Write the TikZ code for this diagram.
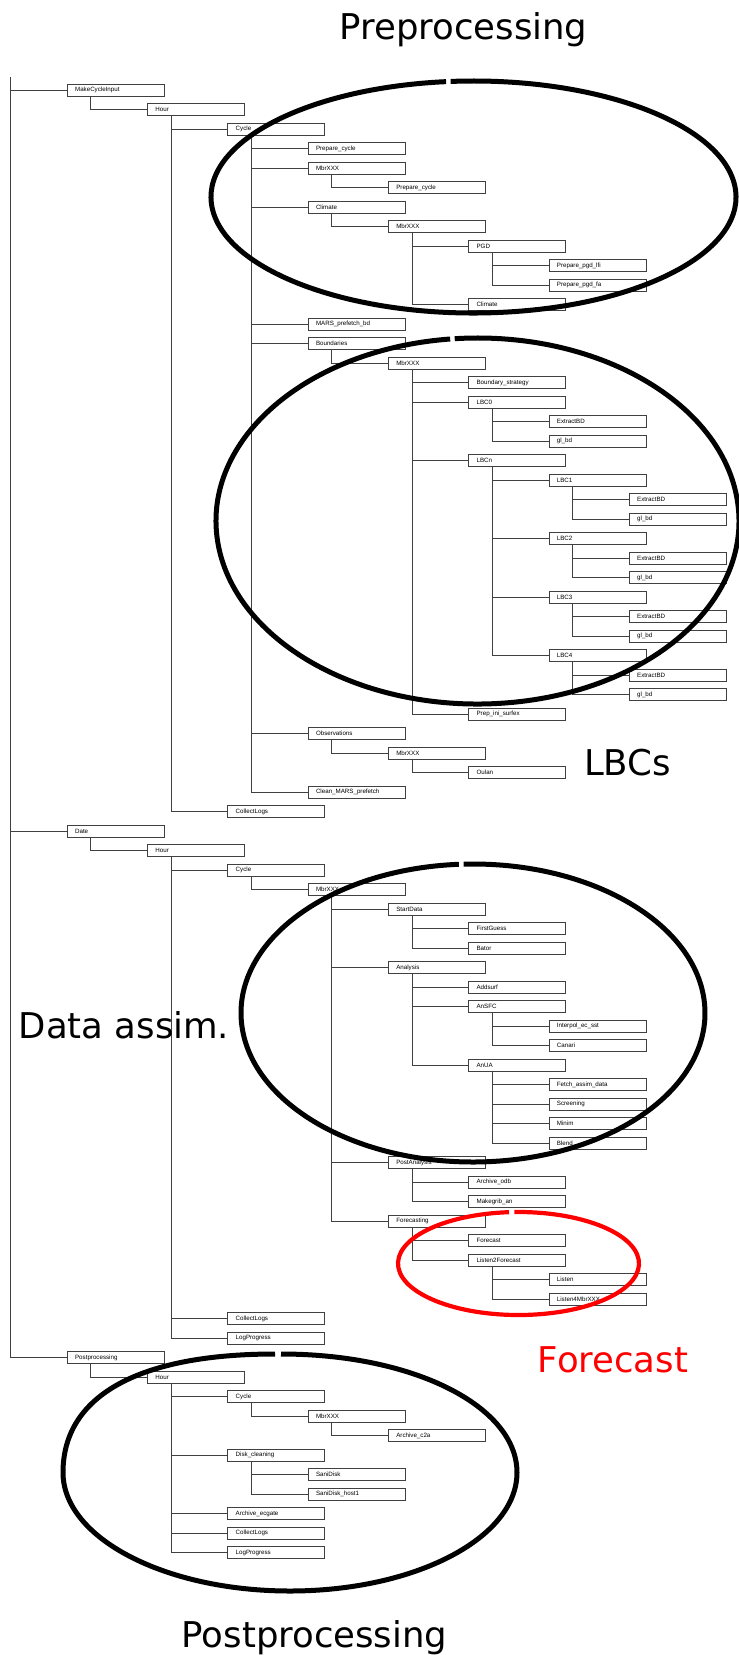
\documentclass[tikz,border=0pt]{standalone}
\usepackage{fontspec}
\setmainfont{Liberation Sans}
\newfontfamily\bigfont{DejaVu Sans}
\usetikzlibrary{calc}

% one task box: name, level, row, label
\newcommand{\tasknode}[4]{\node[taskbox] (#1) at ({80.3*#2-13.6},{90+19.5*#3}) {#4};}

\tikzset{
  taskbox/.style={draw=black!75, line width=0.8pt, anchor=west, minimum height=12pt,
    text width=81pt, inner xsep=8pt, inner ysep=0pt, align=left,
    font=\fontsize{6.2}{7}\selectfont},
  link/.style={draw=black!75, line width=0.8pt},
  loopline/.style={line width=5pt},
  biglabel/.style={font=\bigfont\fontsize{35.5}{40}\selectfont, anchor=base}
}

\begin{document}
\begin{tikzpicture}[x=1pt, y=-1pt]
  \useasboundingbox (0,0) rectangle (739,1655);

  % MakeCycleInput branch
  \tasknode{mci}{1}{0}{MakeCycleInput}
  \tasknode{hourA}{2}{1}{Hour}
  \tasknode{cycleA}{3}{2}{Cycle}
  \tasknode{prepcyc}{4}{3}{Prepare\_cycle}
  \tasknode{mbrA}{4}{4}{MbrXXX}
  \tasknode{prepcycB}{5}{5}{Prepare\_cycle}
  \tasknode{climA}{4}{6}{Climate}
  \tasknode{mbrB}{5}{7}{MbrXXX}
  \tasknode{pgd}{6}{8}{PGD}
  \tasknode{pgdlfi}{7}{9}{Prepare\_pgd\_lfi}
  \tasknode{pgdfa}{7}{10}{Prepare\_pgd\_fa}
  \tasknode{climB}{6}{11}{Climate}
  \tasknode{marspf}{4}{12}{MARS\_prefetch\_bd}
  \tasknode{bdy}{4}{13}{Boundaries}
  \tasknode{mbrC}{5}{14}{MbrXXX}
  \tasknode{bdystrat}{6}{15}{Boundary\_strategy}
  \tasknode{lbc0}{6}{16}{LBC0}
  \tasknode{xbd0}{7}{17}{ExtractBD}
  \tasknode{glbd0}{7}{18}{gl\_bd}
  \tasknode{lbcn}{6}{19}{LBCn}
  \tasknode{lbc1}{7}{20}{LBC1}
  \tasknode{xbd1}{8}{21}{ExtractBD}
  \tasknode{glbd1}{8}{22}{gl\_bd}
  \tasknode{lbc2}{7}{23}{LBC2}
  \tasknode{xbd2}{8}{24}{ExtractBD}
  \tasknode{glbd2}{8}{25}{gl\_bd}
  \tasknode{lbc3}{7}{26}{LBC3}
  \tasknode{xbd3}{8}{27}{ExtractBD}
  \tasknode{glbd3}{8}{28}{gl\_bd}
  \tasknode{lbc4}{7}{29}{LBC4}
  \tasknode{xbd4}{8}{30}{ExtractBD}
  \tasknode{glbd4}{8}{31}{gl\_bd}
  \tasknode{prepini}{6}{32}{Prep\_ini\_surfex}
  \tasknode{obs}{4}{33}{Observations}
  \tasknode{mbrD}{5}{34}{MbrXXX}
  \tasknode{oulan}{6}{35}{Oulan}
  \tasknode{cleanmars}{4}{36}{Clean\_MARS\_prefetch}
  \tasknode{logsA}{3}{37}{CollectLogs}

  % Date branch
  \tasknode{date}{1}{38}{Date}
  \tasknode{hourB}{2}{39}{Hour}
  \tasknode{cycleB}{3}{40}{Cycle}
  \tasknode{mbrE}{4}{41}{MbrXXX}
  \tasknode{startdata}{5}{42}{StartData}
  \tasknode{firstguess}{6}{43}{FirstGuess}
  \tasknode{bator}{6}{44}{Bator}
  \tasknode{analysis}{5}{45}{Analysis}
  \tasknode{addsurf}{6}{46}{Addsurf}
  \tasknode{ansfc}{6}{47}{AnSFC}
  \tasknode{interpol}{7}{48}{Interpol\_ec\_sst}
  \tasknode{canari}{7}{49}{Canari}
  \tasknode{anua}{6}{50}{AnUA}
  \tasknode{fetch}{7}{51}{Fetch\_assim\_data}
  \tasknode{screening}{7}{52}{Screening}
  \tasknode{minim}{7}{53}{Minim}
  \tasknode{blend}{7}{54}{Blend}
  \tasknode{postan}{5}{55}{PostAnalysis}
  \tasknode{archodb}{6}{56}{Archive\_odb}
  \tasknode{makegrib}{6}{57}{Makegrib\_an}
  \tasknode{fcing}{5}{58}{Forecasting}
  \tasknode{fc}{6}{59}{Forecast}
  \tasknode{listen2}{6}{60}{Listen2Forecast}
  \tasknode{listen}{7}{61}{Listen}
  \tasknode{listen4}{7}{62}{Listen4MbrXXX}
  \tasknode{logsB}{3}{63}{CollectLogs}
  \tasknode{progB}{3}{64}{LogProgress}

  % Postprocessing branch
  \tasknode{post}{1}{65}{Postprocessing}
  \tasknode{hourC}{2}{66}{Hour}
  \tasknode{cycleC}{3}{67}{Cycle}
  \tasknode{mbrF}{4}{68}{MbrXXX}
  \tasknode{archc2a}{5}{69}{Archive\_c2a}
  \tasknode{diskcl}{3}{70}{Disk\_cleaning}
  \tasknode{sanidisk}{4}{71}{SaniDisk}
  \tasknode{sanihost}{4}{72}{SaniDisk\_host1}
  \tasknode{archecg}{3}{73}{Archive\_ecgate}
  \tasknode{logsC}{3}{74}{CollectLogs}
  \tasknode{progC}{3}{75}{LogProgress}

  % root line
  \coordinate (root) at (10.5,77);
  \foreach \c in {mci, date, post}
    \draw[link] (root) |- (\c.west);

  % parent to child links
  \foreach \p/\c in {mci/hourA, hourA/cycleA, hourA/logsA,
      cycleA/prepcyc, cycleA/mbrA, cycleA/climA, cycleA/marspf, cycleA/bdy, cycleA/obs, cycleA/cleanmars,
      mbrA/prepcycB, climA/mbrB, mbrB/pgd, mbrB/climB, pgd/pgdlfi, pgd/pgdfa,
      bdy/mbrC, mbrC/bdystrat, mbrC/lbc0, mbrC/lbcn, mbrC/prepini,
      lbc0/xbd0, lbc0/glbd0, lbcn/lbc1, lbcn/lbc2, lbcn/lbc3, lbcn/lbc4,
      lbc1/xbd1, lbc1/glbd1, lbc2/xbd2, lbc2/glbd2, lbc3/xbd3, lbc3/glbd3, lbc4/xbd4, lbc4/glbd4,
      obs/mbrD, mbrD/oulan,
      date/hourB, hourB/cycleB, hourB/logsB, hourB/progB, cycleB/mbrE,
      mbrE/startdata, mbrE/analysis, mbrE/postan, mbrE/fcing,
      startdata/firstguess, startdata/bator, analysis/addsurf, analysis/ansfc, analysis/anua,
      ansfc/interpol, ansfc/canari, anua/fetch, anua/screening, anua/minim, anua/blend,
      postan/archodb, postan/makegrib, fcing/fc, fcing/listen2, listen2/listen, listen2/listen4,
      post/hourC, hourC/cycleC, hourC/diskcl, hourC/archecg, hourC/logsC, hourC/progC,
      cycleC/mbrF, mbrF/archc2a, diskcl/sanidisk, diskcl/sanihost}
    \draw[link] ($(\p.south west)+(24,0)$) |- (\c.west);

  % hand-drawn loops round the stages
  \draw[loopline] (473.5,197) ++(96:262.5pt and 116pt)
    arc[start angle=96, end angle=455, x radius=262.5pt, y radius=116pt];
  \draw[loopline] (477.5,521) ++(96:261.5pt and 183pt)
    arc[start angle=96, end angle=455, x radius=261.5pt, y radius=183pt];
  \draw[loopline] (473,1013) ++(93.5:232pt and 149pt)
    arc[start angle=93.5, end angle=452.3, x radius=232pt, y radius=149pt];
  \draw[loopline, red, line width=4.2pt] (518.5,1263.5) ++(94.5:120.5pt and 51.5pt)
    arc[start angle=94.5, end angle=452, x radius=120.5pt, y radius=51.5pt];
  \draw[loopline] (275,1354) .. controls (140,1354) and (63,1395) .. (63,1472.5)
    .. controls (63,1538) and (165,1591) .. (290,1591)
    .. controls (415,1591) and (517,1538) .. (517,1472.5)
    .. controls (517,1407) and (415,1354) .. (281,1354);

  % stage labels
  \node[biglabel] (lblpre) at (463.5,39) {Preprocessing};
  \node[biglabel] (lbllbc) at (627.5,775) {LBCs};
  \node[biglabel] (lblda) at (124,1038) {Data assim.};
  \node[biglabel, red] (lblfc) at (613,1372) {Forecast};
  \node[biglabel] (lblpost) at (314.5,1647) {Postprocessing};
\end{tikzpicture}
\end{document}
